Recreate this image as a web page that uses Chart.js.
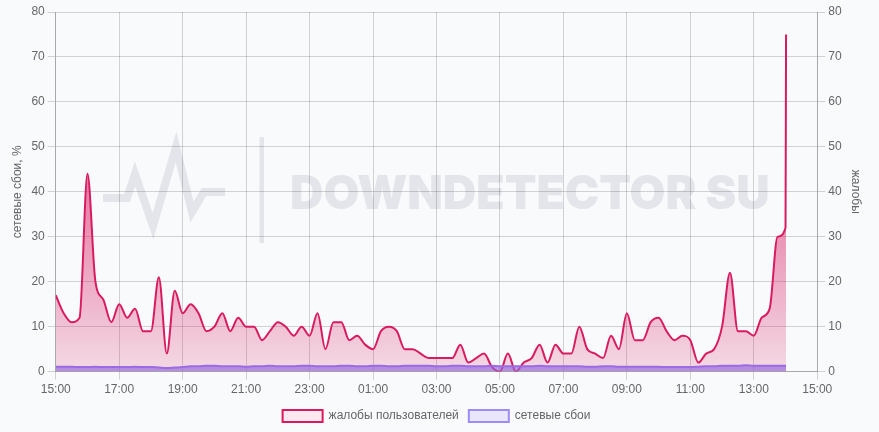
<!DOCTYPE html>
<html>
<head>
<meta charset="utf-8">
<script src="https://cdn.jsdelivr.net/npm/chart.js@4.4.1/dist/chart.umd.min.js"></script>
<style>
  body { margin: 0; background: #f9fafc; }
  #chart { display: block; }
</style>
</head>
<body>
<canvas id="chart" width="879" height="432"></canvas>
<script>
// time of each sample (15 min steps from 15:00, last one a minute after 14:00)
const times = [
  '15:00','15:15','15:30','15:45','16:00','16:15','16:30','16:45',
  '17:00','17:15','17:30','17:45','18:00','18:15','18:30','18:45',
  '19:00','19:15','19:30','19:45','20:00','20:15','20:30','20:45',
  '21:00','21:15','21:30','21:45','22:00','22:15','22:30','22:45',
  '23:00','23:15','23:30','23:45','00:00','00:15','00:30','00:45',
  '01:00','01:15','01:30','01:45','02:00','02:15','02:30','02:45',
  '03:00','03:15','03:30','03:45','04:00','04:15','04:30','04:45',
  '05:00','05:15','05:30','05:45','06:00','06:15','06:30','06:45',
  '07:00','07:15','07:30','07:45','08:00','08:15','08:30','08:45',
  '09:00','09:15','09:30','09:45','10:00','10:15','10:30','10:45',
  '11:00','11:15','11:30','11:45','12:00','12:15','12:30','12:45',
  '13:00','13:15','13:30','13:45','14:00','14:01'
];

// user complaints
const complaints = [
  17, 13, 11, 12, 44, 20, 16, 11,
  15, 12, 14, 9, 9, 21, 4, 18,
  13, 15, 13, 9, 10, 13, 9, 12,
  10, 10, 7, 9, 11, 10, 8, 10,
  8, 13, 5, 11, 11, 7, 8, 6,
  5, 9, 10, 9, 5, 5, 4, 3,
  3, 3, 3, 6, 2, 3, 4, 1,
  0, 4, 0, 2, 3, 6, 2, 6,
  4, 4, 10, 5, 4, 3, 8, 5,
  13, 7, 7, 11, 12, 9, 7, 8,
  7, 2, 4, 5, 10, 22, 9, 9,
  8, 12, 14, 30, 32, 75
];

// network failures, %
const failures = [
  1.1, 1.1, 1.1, 1.0, 1.0, 1.1, 1.0, 1.0,
  1.0, 1.0, 1.1, 1.0, 1.0, 0.9, 0.8, 0.9,
  1.0, 1.2, 1.2, 1.3, 1.3, 1.2, 1.2, 1.2,
  1.1, 1.2, 1.2, 1.3, 1.2, 1.2, 1.2, 1.3,
  1.3, 1.2, 1.2, 1.2, 1.3, 1.3, 1.2, 1.2,
  1.3, 1.3, 1.2, 1.2, 1.3, 1.3, 1.3, 1.3,
  1.2, 1.2, 1.3, 1.3, 1.2, 1.2, 1.2, 1.3,
  1.2, 1.2, 1.2, 1.2, 1.2, 1.3, 1.2, 1.2,
  1.2, 1.2, 1.2, 1.1, 1.1, 1.2, 1.2, 1.1,
  1.1, 1.1, 1.1, 1.1, 1.1, 1.0, 1.0, 1.0,
  1.0, 1.1, 1.2, 1.2, 1.3, 1.3, 1.3, 1.4,
  1.3, 1.3, 1.3, 1.3, 1.3, 1.3
];

// x axis tick labels every two hours
const tickLabels = ['15:00','17:00','19:00','21:00','23:00','01:00','03:00',
                    '05:00','07:00','09:00','11:00','13:00','15:00'];

// minutes since 15:00
function toMinutes(t) {
    const [h, m] = t.split(':').map(Number);
    return (h * 60 + m - 900 + 1440) % 1440;
}
const xs = times.map(toMinutes);

const pink = '#d81b60';
const legendFill = ['#fbe9ef', '#e9e6fc'];
const legendStroke = [pink, '#9d8cf5'];

// watermark behind the grid
const watermark = {
    id: 'watermark',
    beforeDraw(chart) {
        const ctx = chart.ctx;
        ctx.save();
        ctx.strokeStyle = '#e3e5ea';
        ctx.lineWidth = 8;
        ctx.lineJoin = 'miter';
        ctx.beginPath();
        ctx.moveTo(103, 198);
        ctx.lineTo(127, 198);
        ctx.lineTo(135, 174);
        ctx.lineTo(153, 226);
        ctx.lineTo(176, 147);
        ctx.lineTo(192, 212);
        ctx.lineTo(204, 192);
        ctx.lineTo(225, 192);
        ctx.stroke();
        ctx.fillStyle = '#e3e5ea';
        ctx.fillRect(259.5, 137, 4.5, 106);
        const family = '"Inter", "DejaVu Sans", sans-serif';
        let size = 46;
        ctx.font = '900 ' + size + 'px ' + family;
        const w = ctx.measureText('DOWNDETECTOR SU').width;
        size = size * 480 / w;
        ctx.font = '900 ' + size + 'px ' + family;
        ctx.textBaseline = 'alphabetic';
        ctx.fillText('DOWNDETECTOR SU', 290, 209);
        ctx.restore();
    }
};

const ctx = document.getElementById('chart').getContext('2d');
new Chart(ctx, {
    type: 'line',
    data: {
        datasets: [{
            label: 'жалобы пользователей',
            data: complaints.map((v, i) => ({ x: xs[i], y: v })),
            yAxisID: 'y1',
            borderColor: pink,
            borderWidth: 2,
            backgroundColor: (context) => {
                const area = context.chart.chartArea;
                if (!area) return 'rgba(216,27,96,0.3)';
                const g = context.chart.ctx.createLinearGradient(0, area.top, 0, area.bottom);
                g.addColorStop(0, 'rgba(216,27,96,0.95)');
                g.addColorStop(1, 'rgba(216,27,96,0.15)');
                return g;
            },
            fill: 'origin',
            pointRadius: 0,
            cubicInterpolationMode: 'monotone',
            order: 1
        }, {
            label: 'сетевые сбои',
            data: failures.map((v, i) => ({ x: xs[i], y: v })),
            yAxisID: 'y',
            borderColor: '#9b6be3',
            borderWidth: 2,
            backgroundColor: 'rgba(150,100,220,0.65)',
            fill: 'origin',
            pointRadius: 0,
            cubicInterpolationMode: 'monotone',
            order: 0
        }]
    },
    options: {
        responsive: false,
        animation: false,
        layout: { padding: { left: 6, right: 12, top: 12, bottom: 0 } },
        plugins: {
            tooltip: { enabled: false },
            legend: {
                position: 'bottom',
                labels: {
                    color: '#666',
                    font: { size: 12 },
                    boxWidth: 40,
                    boxHeight: 12,
                    generateLabels(chart) {
                        const items = Chart.defaults.plugins.legend.labels.generateLabels(chart);
                        items.sort((a, b) => a.datasetIndex - b.datasetIndex);
                        items.forEach(it => {
                            it.fillStyle = legendFill[it.datasetIndex];
                            it.strokeStyle = legendStroke[it.datasetIndex];
                            it.lineWidth = 2;
                        });
                        return items;
                    }
                }
            }
        },
        scales: {
            x: {
                type: 'linear',
                min: 0,
                max: 1440,
                ticks: {
                    stepSize: 120,
                    color: '#666',
                    font: { size: 12 },
                    maxRotation: 0,
                    callback: (v) => tickLabels[Math.round(v / 120)]
                },
                grid: { color: 'rgba(0,0,0,0.16)' },
                border: { color: 'rgba(0,0,0,0.2)' }
            },
            y: {
                position: 'left',
                min: 0,
                max: 80,
                ticks: { stepSize: 10, color: '#666', font: { size: 12 } },
                grid: { color: 'rgba(0,0,0,0.16)' },
                border: { color: 'rgba(0,0,0,0.2)' },
                title: { display: true, text: 'сетевые сбои, %', color: '#666', font: { size: 12 } }
            },
            y1: {
                position: 'right',
                min: 0,
                max: 80,
                ticks: { stepSize: 10, color: '#666', font: { size: 12 } },
                grid: { drawOnChartArea: false, color: 'rgba(0,0,0,0.16)' },
                border: { color: 'rgba(0,0,0,0.2)' },
                title: { display: true, text: 'жалобы', color: '#666', font: { size: 12 } }
            }
        }
    },
    plugins: [watermark]
});
</script>
</body>
</html>
